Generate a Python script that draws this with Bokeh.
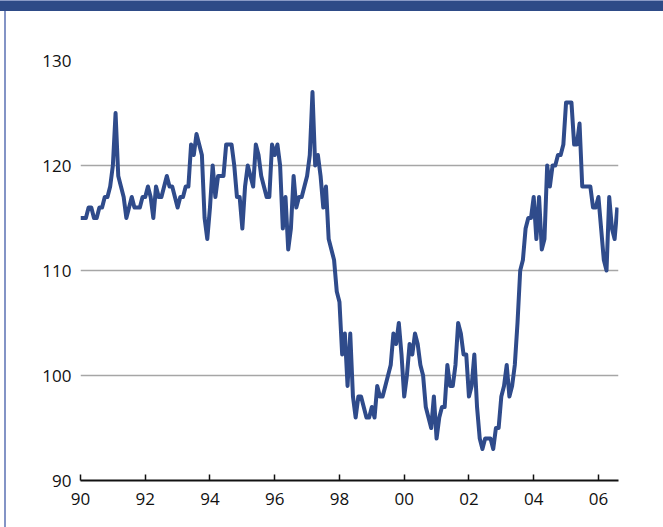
from bokeh.plotting import figure
from bokeh.models import FixedTicker, Range1d, ColumnDataSource
from bokeh.embed import file_html
from bokeh.resources import INLINE

# ---- data (monthly index, Jan 1990 .. Aug 2006) ----
start_year = 1990
index_values = [
    115, 115, 115, 116, 116, 115, 115, 116, 116, 117, 117, 118,   # 1990
    120, 125, 119, 118, 117, 115, 116, 117, 116, 116, 116, 117,   # 1991
    117, 118, 117, 115, 118, 117, 117, 118, 119, 118, 118, 117,   # 1992
    116, 117, 117, 118, 118, 122, 121, 123, 122, 121, 115, 113,   # 1993
    116, 120, 117, 119, 119, 119, 122, 122, 122, 120, 117, 117,   # 1994
    114, 118, 120, 119, 118, 122, 121, 119, 118, 117, 117, 122,   # 1995
    121, 122, 120, 114, 117, 112, 114, 119, 116, 117, 117, 118,   # 1996
    119, 121, 127, 120, 121, 119, 116, 118, 113, 112, 111, 108,   # 1997
    107, 102, 104, 99, 104, 98, 96, 98, 98, 97, 96, 96,           # 1998
    97, 96, 99, 98, 98, 99, 100, 101, 104, 103, 105, 102,         # 1999
    98, 100, 103, 102, 104, 103, 101, 100, 97, 96, 95, 98,        # 2000
    94, 96, 97, 97, 101, 99, 99, 101, 105, 104, 102, 102,         # 2001
    98, 99, 102, 97, 94, 93, 94, 94, 94, 93, 95, 95,              # 2002
    98, 99, 101, 98, 99, 101, 105, 110, 111, 114, 115, 115,       # 2003
    117, 113, 117, 112, 113, 120, 118, 120, 120, 121, 121, 122,   # 2004
    126, 126, 126, 122, 122, 124, 118, 118, 118, 118, 116, 116,   # 2005
    117, 114, 111, 110, 117, 114, 113, 116,                       # 2006
]
tick_years = [1990, 1992, 1994, 1996, 1998, 2000, 2002, 2004, 2006]
tick_labels = ["90", "92", "94", "96", "98", "00", "02", "04", "06"]
y_ticks = [90, 100, 110, 120, 130]

xs = [start_year + i / 12 for i in range(len(index_values))]
src = ColumnDataSource(dict(x=xs, y=index_values))

p = figure(
    width=663, height=527, output_backend="svg", toolbar_location=None,
    x_range=Range1d(1990, 2006.62), y_range=Range1d(90, 130),
    min_border_left=80, min_border_right=45, min_border_top=60, min_border_bottom=47,
)
p.border_fill_color = None
p.background_fill_color = None
p.outline_line_color = None
p.styles = {
    "background": (
        "linear-gradient(#8a9bc6,#8a9bc6) 0 0 / 100% 1px no-repeat,"
        "linear-gradient(#2e4b87,#2e4b87) 0 1px / 100% 10px no-repeat,"
        "linear-gradient(#8394c6,#8394c6) 4px 11px / 2px 100% no-repeat,"
        "#ffffff"
    ),
}

p.line("x", "y", source=src, line_color="#2f4b8b", line_width=4, line_join="round")

font = "Open Sans"
# x axis
xa = p.xaxis[0]
xa.ticker = FixedTicker(ticks=tick_years)
xa.major_label_overrides = {t: l for t, l in zip(tick_years, tick_labels)}
xa.axis_line_color = "#111111"
xa.axis_line_width = 2
xa.major_tick_in = 6
xa.major_tick_out = 0
xa.major_tick_line_width = 1.5
xa.major_tick_line_color = "#111111"
xa.minor_tick_line_color = None
xa.major_label_standoff = 12
xa.major_label_text_font = font
xa.major_label_text_font_size = "17px"
xa.major_label_text_color = "#111111"

# y axis
ya = p.yaxis[0]
ya.ticker = FixedTicker(ticks=y_ticks)
ya.axis_line_color = None
ya.major_tick_line_color = None
ya.minor_tick_line_color = None
ya.major_tick_in = 0
ya.major_tick_out = 0
ya.major_label_standoff = 9
ya.major_label_text_font = font
ya.major_label_text_font_size = "17px"
ya.major_label_text_color = "#111111"

p.xgrid.grid_line_color = None
p.ygrid.ticker = FixedTicker(ticks=y_ticks)
p.ygrid.grid_line_color = "#a6a6a6"
p.ygrid.grid_line_width = 1.5

open("out.html", "w").write(file_html(p, INLINE))
